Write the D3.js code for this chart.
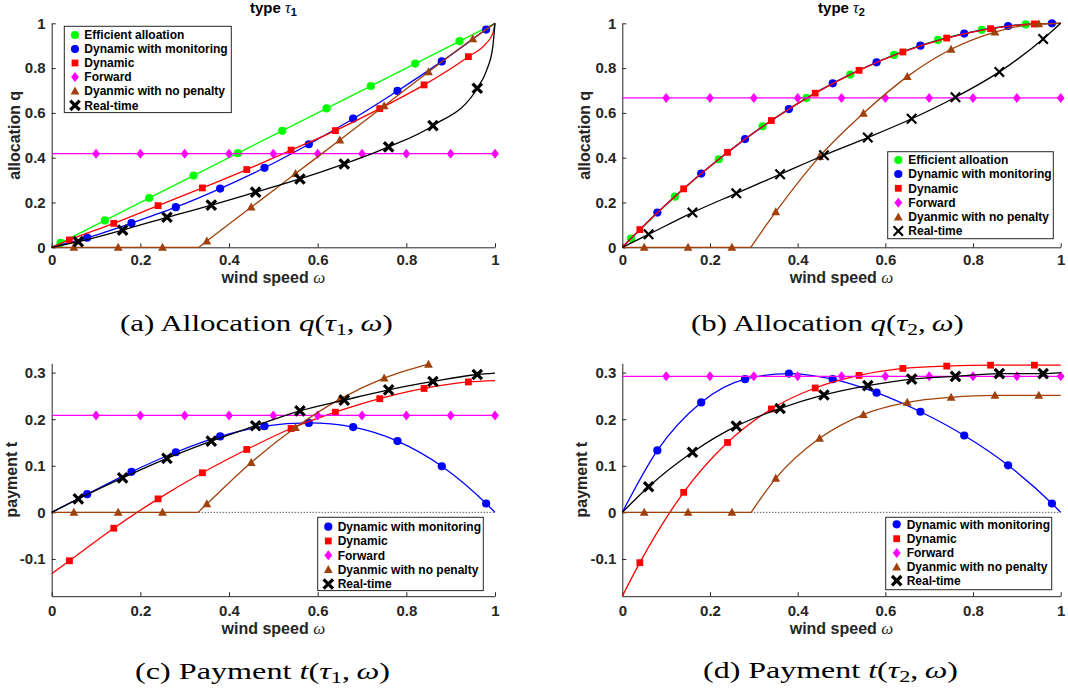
<!DOCTYPE html>
<html><head><meta charset="utf-8">
<script src="https://cdn.jsdelivr.net/npm/d3@7"></script>
<style>body{margin:0;background:#fff}svg{display:block}</style>
</head><body>
<svg id="chart" width="1068" height="694"></svg>
<script>
// ---------- shared labels ----------
const seriesNames = ["Efficient alloation","Dynamic with monitoring","Dynamic","Forward","Dyanmic with no penalty","Real-time"];
const seriesColors = ["#00ff00","#0000ff","#ff0000","#ff00ff","#a0400a","#000000"];
const seriesShapes = ["circle","circle","square","diamond","triangle","cross"];
const xTicks = [0,0.2,0.4,0.6,0.8,1];
const xTickLabels = ["0","0.2","0.4","0.6","0.8","1"];
const allocTicks = [0,0.2,0.4,0.6,0.8,1];
const allocTickLabels = ["0","0.2","0.4","0.6","0.8","1"];
const payTicks = [-0.1,0,0.1,0.2,0.3];
const payTickLabels = ["-0.1","0","0.1","0.2","0.3"];
const fwdMarkX = [0.1,0.2,0.3,0.4,0.5,0.6,0.7,0.8,0.9,1.0];

// ---------- (a) allocation, type tau1 ----------
const aEffMarks = [[0.02,0.02],[0.12,0.12],[0.22,0.22],[0.32,0.32],[0.42,0.42],[0.52,0.52],[0.62,0.62],[0.72,0.72],[0.82,0.82],[0.92,0.92]];
const aEffLine = [[0,0],[1,1]];
const aMonMarks = [[0.08,0.043],[0.18,0.108],[0.28,0.179],[0.38,0.262],[0.48,0.355],[0.58,0.460],[0.68,0.574],[0.78,0.698],[0.88,0.830],[0.98,0.972]];
const aMonLine = [[0,0],...aMonMarks,[1,1]];
const aDynMarks = [[0.04,0.033],[0.14,0.107],[0.24,0.186],[0.34,0.265],[0.44,0.347],[0.54,0.434],[0.64,0.521],[0.74,0.619],[0.84,0.725],[0.94,0.851]];
const aDynLine = [[0,0],...aDynMarks,[0.98,0.91],[0.995,0.955],[1,1]];
const aFwdValue = 0.418;
const aNoPenMarks = [[0.05,0],[0.15,0],[0.25,0],[0.35,0.028],[0.45,0.179],[0.55,0.329],[0.65,0.479],[0.75,0.631],[0.85,0.783],[0.95,0.931]];
const aNoPenLine = [[0,0],[0.332,0],[0.35,0.028],[0.45,0.179],[0.55,0.329],[0.65,0.479],[0.75,0.631],[0.85,0.783],[0.95,0.931],[1,1]];
const aRtMarks = [[0.06,0.025],[0.16,0.077],[0.26,0.134],[0.36,0.188],[0.46,0.246],[0.56,0.305],[0.66,0.372],[0.76,0.448],[0.86,0.543],[0.96,0.71]];
const aRtLine = [[0,0],...aRtMarks,[0.981,0.79],[0.995,0.895],[1,1]];

// ---------- (b) allocation, type tau2 ----------
const bEffMarks = [[0.02,0.039],[0.12,0.226],[0.22,0.393],[0.32,0.54],[0.42,0.666],[0.52,0.771],[0.62,0.859],[0.72,0.926],[0.82,0.971],[0.92,0.995]];
const bEffLine = [[0,0],...bEffMarks,[1,1]];
const bMonMarks = [[0.08,0.155],[0.18,0.329],[0.28,0.483],[0.38,0.617],[0.48,0.732],[0.58,0.826],[0.68,0.900],[0.78,0.954],[0.88,0.988],[0.98,1.0]];
const bMonLine = [[0,0],...bMonMarks,[1,1]];
const bDynMarks = [[0.04,0.079],[0.14,0.261],[0.24,0.424],[0.34,0.566],[0.44,0.688],[0.54,0.790],[0.64,0.872],[0.74,0.934],[0.84,0.976],[0.94,0.997]];
const bDynLine = [[0,0],...bDynMarks,[1,1]];
const bFwdValue = 0.667;
const bNoPenMarks = [[0.05,0],[0.15,0],[0.25,0],[0.35,0.158],[0.45,0.405],[0.55,0.598],[0.65,0.762],[0.75,0.884],[0.85,0.961],[0.95,0.998]];
const bNoPenLine = [[0,0],[0.293,0],[0.35,0.158],[0.45,0.405],[0.55,0.598],[0.65,0.762],[0.75,0.884],[0.85,0.961],[0.95,0.998],[1,1]];
const bRtMarks = [[0.06,0.058],[0.16,0.155],[0.26,0.241],[0.36,0.326],[0.46,0.411],[0.56,0.49],[0.66,0.574],[0.76,0.67],[0.86,0.783],[0.96,0.93]];
const bRtLine = [[0,0],...bRtMarks,[1,1]];

// ---------- (c) payment, type tau1 ----------
const cMonMarks = [[0.08,0.039],[0.18,0.087],[0.28,0.129],[0.38,0.163],[0.48,0.185],[0.58,0.192],[0.68,0.183],[0.78,0.153],[0.88,0.099],[0.98,0.019]];
const cMonLine = [[0,0],...cMonMarks,[1,0]];
const cDynMarks = [[0.04,-0.104],[0.14,-0.034],[0.24,0.029],[0.34,0.085],[0.44,0.135],[0.54,0.180],[0.64,0.215],[0.74,0.244],[0.84,0.266],[0.94,0.280]];
const cDynLine = [[0,-0.132],...cDynMarks,[1,0.283]];
const cFwdValue = 0.208;
const cNoPenMarks = [[0.05,0],[0.15,0],[0.25,0],[0.35,0.018],[0.45,0.107],[0.55,0.182],[0.65,0.243],[0.75,0.288],[0.85,0.318]];
const cNoPenLine = [[0,0],[0.33,0],[0.35,0.018],[0.45,0.107],[0.55,0.182],[0.65,0.243],[0.75,0.288],[0.85,0.318]];
const cRtMarks = [[0.06,0.029],[0.16,0.074],[0.26,0.116],[0.36,0.153],[0.46,0.186],[0.56,0.218],[0.66,0.241],[0.76,0.263],[0.86,0.281],[0.96,0.296]];
const cRtLine = [[0,0],...cRtMarks,[1,0.299]];

// ---------- (d) payment, type tau2 ----------
const dMonMarks = [[0.08,0.133],[0.18,0.236],[0.28,0.286],[0.38,0.298],[0.48,0.286],[0.58,0.257],[0.68,0.216],[0.78,0.165],[0.88,0.101],[0.98,0.019]];
const dMonLine = [[0,0],...dMonMarks,[1,0]];
const dDynMarks = [[0.04,-0.108],[0.14,0.043],[0.24,0.150],[0.34,0.222],[0.44,0.267],[0.54,0.294],[0.64,0.309],[0.74,0.314],[0.84,0.316],[0.94,0.316]];
const dDynLine = [[0,-0.18],...dDynMarks,[1,0.316]];
const dFwdValue = 0.292;
const dNoPenMarks = [[0.05,0],[0.15,0],[0.25,0],[0.35,0.073],[0.45,0.159],[0.55,0.210],[0.65,0.236],[0.75,0.247],[0.85,0.251],[0.95,0.251]];
const dNoPenLine = [[0,0],[0.294,0],[0.35,0.073],[0.45,0.159],[0.55,0.210],[0.65,0.236],[0.75,0.247],[0.85,0.251],[0.95,0.251],[1,0.251]];
const dRtMarks = [[0.06,0.055],[0.16,0.129],[0.26,0.185],[0.36,0.223],[0.46,0.252],[0.56,0.272],[0.66,0.286],[0.76,0.292],[0.86,0.298],[0.96,0.298]];
const dRtLine = [[0,0],...dRtMarks,[1,0.3]];

// ---------- layout ----------
const SANS = "'Liberation Sans', Arial, Helvetica, sans-serif";
const SERIF = "'Liberation Serif', 'Times New Roman', serif";
const AX = "#262626";
const svg = d3.select("#chart");

function fwd(v){ return {line:[[0,v],[1,v]], marks: fwdMarkX.map(x=>[x,v])}; }

const panels = [
 {x0:51.7,x1:495,yT:23.3,yB:247.3,dom:[0,1],ticks:allocTicks,tlab:allocTickLabels,ylabel:"allocation q",ylx:20,
  title:"1", xlabY:283, tickPad:7, zero:false, cap:"a", capWord:"Allocation", capF:"q", capSub:"1", capX:120, capW:273, capY:331,
  crossW:3.2,
  legend:{x:64.3,y:26.3,w:167,rows:[35,49,63,77,91,105.3],mx:75,tx:84.3,idx:[0,1,2,3,4,5]},
  series:[{i:0,line:aEffLine,marks:aEffMarks},{i:1,line:aMonLine,marks:aMonMarks},{i:2,line:aDynLine,marks:aDynMarks},
          {i:3,...fwd(aFwdValue)},{i:4,line:aNoPenLine,marks:aNoPenMarks},{i:5,line:aRtLine,marks:aRtMarks}]},
 {x0:622.3,x1:1060.7,yT:23.3,yB:247.3,dom:[0,1],ticks:allocTicks,tlab:allocTickLabels,ylabel:"allocation q",ylx:590,
  title:"2", xlabY:283, tickPad:7, zero:false, cap:"b", capWord:"Allocation", capF:"q", capSub:"2", capX:691, capW:273, capY:331,
  crossW:2.2,
  legend:{x:887.7,y:151.7,w:165.6,rows:[160,174,188.3,202.7,217,231],mx:898.3,tx:908.3,idx:[0,1,2,3,4,5]},
  series:[{i:0,line:bEffLine,marks:bEffMarks},{i:1,line:bMonLine,marks:bMonMarks},{i:2,line:bDynLine,marks:bDynMarks},
          {i:3,...fwd(bFwdValue)},{i:4,line:bNoPenLine,marks:bNoPenMarks},{i:5,line:bRtLine,marks:bRtMarks}]},
 {x0:51.7,x1:495,yT:363.3,yB:596.2,dom:[-0.18,0.32],ticks:payTicks,tlab:payTickLabels,ylabel:"payment t",ylx:17,
  title:null, xlabY:634, tickPad:9, zero:true, cap:"c", capWord:"Payment", capF:"t", capSub:"1", capX:135, capW:255, capY:679,
  crossW:3.2,
  legend:{x:317.7,y:517.3,w:165.6,rows:[526.7,541,555.3,569.7,584],mx:328.3,tx:337.7,idx:[1,2,3,4,5]},
  series:[{i:1,line:cMonLine,marks:cMonMarks},{i:2,line:cDynLine,marks:cDynMarks},
          {i:3,...fwd(cFwdValue)},{i:4,line:cNoPenLine,marks:cNoPenMarks},{i:5,line:cRtLine,marks:cRtMarks}]},
 {x0:622.3,x1:1060.7,yT:363.3,yB:596.2,dom:[-0.18,0.32],ticks:payTicks,tlab:payTickLabels,ylabel:"payment t",ylx:587,
  title:null, xlabY:634, tickPad:9, zero:true, cap:"d", capWord:"Payment", capF:"t", capSub:"2", capX:703, capW:255, capY:678,
  crossW:3.2,
  legend:{x:885.7,y:517.3,w:166,rows:[524.3,538.7,553,567,580.7],mx:896.7,tx:906.7,idx:[1,2,3,4,5]},
  series:[{i:1,line:dMonLine,marks:dMonMarks},{i:2,line:dDynLine,marks:dDynMarks},
          {i:3,...fwd(dFwdValue)},{i:4,line:dNoPenLine,marks:dNoPenMarks},{i:5,line:dRtLine,marks:dRtMarks}]}
];

function marker(g, shape, color, cx, cy, crossW){
  if(shape==="circle"){
    g.append("circle").attr("cx",cx).attr("cy",cy).attr("r",4.1).attr("fill",color);
  } else if(shape==="square"){
    g.append("rect").attr("x",cx-3.4).attr("y",cy-3.4).attr("width",6.8).attr("height",6.8).attr("fill",color);
  } else if(shape==="diamond"){
    g.append("path").attr("d",`M${cx},${cy-5}L${cx+3.9},${cy}L${cx},${cy+5}L${cx-3.9},${cy}Z`).attr("fill",color);
  } else if(shape==="triangle"){
    g.append("path").attr("d",`M${cx},${cy-4.6}L${cx+4.4},${cy+3.4}L${cx-4.4},${cy+3.4}Z`).attr("fill",color);
  } else {
    const s=4.7;
    g.append("path").attr("d",`M${cx-s},${cy-s}L${cx+s},${cy+s}M${cx-s},${cy+s}L${cx+s},${cy-s}`)
      .attr("stroke",color).attr("stroke-width",crossW).attr("fill","none");
  }
}

panels.forEach(p=>{
  const x = d3.scaleLinear().domain([0,1]).range([p.x0,p.x1]);
  const y = d3.scaleLinear().domain(p.dom).range([p.yB,p.yT]);
  const g = svg.append("g");

  // axes (box off, ticks inward)
  const xa = g.append("g").attr("transform",`translate(0,${p.yB})`)
    .call(d3.axisBottom(x).tickValues(xTicks).tickFormat((d,i)=>xTickLabels[i]).tickSize(-4).tickSizeOuter(0).tickPadding(p.tickPad));
  const ya = g.append("g").attr("transform",`translate(${p.x0},0)`)
    .call(d3.axisLeft(y).tickValues(p.ticks).tickFormat((d,i)=>p.tlab[i]).tickSize(-4).tickSizeOuter(0).tickPadding(6));
  [xa,ya].forEach(a=>{
    a.selectAll("path,line").attr("stroke",AX).attr("stroke-width",1);
    a.selectAll("text").attr("fill",AX).style("font-family",SANS).style("font-weight","bold").style("font-size","15px");
  });

  if(p.zero){
    g.append("line").attr("x1",x(0)).attr("x2",x(1)).attr("y1",y(0)).attr("y2",y(0))
      .attr("stroke","#000").attr("stroke-width",0.9).attr("stroke-dasharray","1,2");
  }

  // series
  p.series.forEach(s=>{
    const color = seriesColors[s.i], shape = seriesShapes[s.i];
    const pts = s.line;
    let k=0; while(k+1<pts.length && pts[k][1]===0 && pts[k+1][1]===0) k++;
    const mk = c => d3.line().x(d=>x(d[0])).y(d=>y(d[1])).curve(c);
    const style = path => path.attr("fill","none").attr("stroke",color).attr("stroke-width",1.3).attr("stroke-linejoin","round");
    if(k>=1){
      style(g.append("path").attr("d",mk(d3.curveLinear)(pts.slice(0,k+1))));
      style(g.append("path").attr("d",mk(d3.curveMonotoneX)(pts.slice(k))));
    } else {
      style(g.append("path").attr("d",mk(d3.curveMonotoneX)(pts)));
    }
    const mg = g.append("g");
    s.marks.forEach(m=>marker(mg, shape, color, x(m[0]), y(m[1]), p.crossW));
  });

  // title
  if(p.title){
    const cx = (p.x0+p.x1)/2;
    const t = g.append("text").attr("x",cx).attr("y",13).attr("text-anchor","middle")
      .attr("fill","#000").style("font-family",SANS).style("font-weight","bold").style("font-size","15px");
    t.append("tspan").text("type ");
    t.append("tspan").text("τ").style("font-family",SERIF).style("font-style","italic").style("font-weight","normal").style("font-size","16px");
    t.append("tspan").text(p.title).attr("dy",3).style("font-size","11px");
  }

  // x label
  const xl = g.append("text").attr("x",(p.x0+p.x1)/2).attr("y",p.xlabY).attr("text-anchor","middle")
    .attr("fill",AX).style("font-family",SANS).style("font-weight","bold").style("font-size","16px");
  xl.append("tspan").text("wind speed ");
  xl.append("tspan").text("ω").style("font-family",SERIF).style("font-style","italic").style("font-weight","normal").style("font-size","17px");

  // y label
  g.append("text").attr("transform",`translate(${p.ylx},${(p.yT+p.yB)/2}) rotate(-90)`).attr("text-anchor","middle")
    .attr("fill",AX).style("font-family",SANS).style("font-weight","bold").style("font-size","16px").text(p.ylabel);

  // legend
  const L = p.legend;
  const lh = (L.rows[L.rows.length-1]-L.rows[0]) + 16;
  const lg = g.append("g");
  lg.append("rect").attr("x",L.x).attr("y",L.y).attr("width",L.w).attr("height",lh)
    .attr("fill","#fff").attr("stroke",AX).attr("stroke-width",1);
  L.idx.forEach((si,j)=>{
    marker(lg, seriesShapes[si], seriesColors[si], L.mx, L.rows[j], p.crossW);
    lg.append("text").attr("x",L.tx).attr("y",L.rows[j]).attr("dy","0.36em")
      .attr("fill","#000").style("font-family",SANS).style("font-weight","bold").style("font-size","12px")
      .text(seriesNames[si]);
  });

  // caption
  const cap = svg.append("text").attr("x",0).attr("y",0)
    .attr("fill","#000").style("font-family",SERIF).style("font-size","23px");
  cap.append("tspan").text(`(${p.cap}) ${p.capWord} `);
  cap.append("tspan").text(p.capF).style("font-style","italic");
  cap.append("tspan").text("(");
  cap.append("tspan").text("τ").style("font-style","italic");
  cap.append("tspan").text(p.capSub).attr("dy",4).style("font-size","16px");
  cap.append("tspan").text(",").attr("dy",-4);
  cap.append("tspan").text("\u2009ω").style("font-style","italic");
  cap.append("tspan").text(")");
  const w = cap.node().getBBox().width;
  cap.attr("transform",`translate(${p.capX},${p.capY}) scale(${p.capW/w},1)`);
});
</script>
</body></html>
